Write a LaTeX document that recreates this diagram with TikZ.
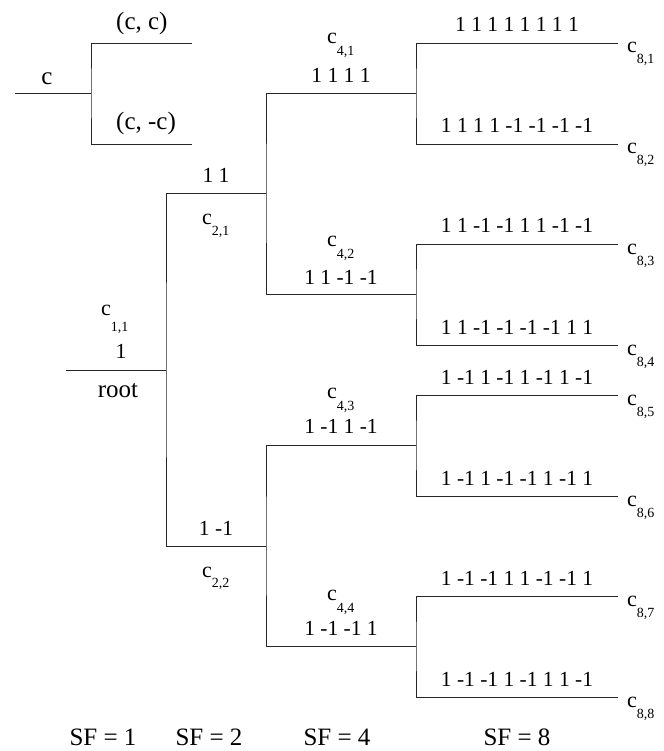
\documentclass[tikz,border=0pt]{standalone}
\usepackage{fontspec}
\setmainfont{Liberation Serif}
\newcommand{\csub}[2][11]{c\raisebox{-#1pt}{\fontsize{14}{14}\selectfont #2}}
\tikzset{
  wire/.style={line width=0.8pt, draw=black!85},
  code/.style={font=\fontsize{21.5}{24}\selectfont, anchor=base, inner sep=0pt},
  big/.style={font=\fontsize{25}{28}\selectfont, anchor=base, inner sep=0pt},
  bigw/.style={font=\fontsize{25}{28}\selectfont, anchor=base west, inner sep=0pt},
  clab/.style={font=\fontsize{22}{24}\selectfont, anchor=base west, inner sep=0pt},
}
\begin{document}
\begin{tikzpicture}[x=1pt,y=-1pt]
\useasboundingbox (0,0) rectangle (663,751);
% ---- small tree top left
\coordinate (t0) at (15,93);
\coordinate (t1) at (91,93);
\coordinate (t2) at (192,43);
\coordinate (t3) at (192,144);
\draw[wire] (t0) -- (t1);
\draw[wire] (t2) -| (t1) |- (t3);
\node[big] (tc) at (47,85) {c};
\node[bigw] (tcc) at (116,30) {(c, c)};
\node[bigw] (tcm) at (116,130) {(c, -c)};
% ---- main tree
\coordinate (r0) at (66,370);
\coordinate (r1) at (166,370);
\coordinate (a1) at (266,193);
\coordinate (a2) at (266,546);
\coordinate (b1) at (416,93);
\coordinate (b2) at (416,294);
\coordinate (b3) at (416,445);
\coordinate (b4) at (416,646);
\coordinate (l1) at (618,43);
\coordinate (l2) at (618,144);
\coordinate (l3) at (618,244);
\coordinate (l4) at (618,345);
\coordinate (l5) at (618,395);
\coordinate (l6) at (618,496);
\coordinate (l7) at (618,596);
\coordinate (l8) at (618,697);
\draw[wire] (r0) -- (r1);
\draw[wire] (a1) -| (r1) |- (a2);
\draw[wire] (b1) -| (a1) |- (b2);
\draw[wire] (b3) -| (a2) |- (b4);
\draw[wire] (l1) -| (b1) |- (l2);
\draw[wire] (l3) -| (b2) |- (l4);
\draw[wire] (l5) -| (b3) |- (l6);
\draw[wire] (l7) -| (b4) |- (l8);
% level 1
\node[clab] (c11) at (101,315) {\csub[16]{1,1}};
\node[code] (s11) at (121,358) {1};
\node[big] (root) at (118,397) {root};
% level 2
\node[code] (s21) at (216,183) {1 1};
\node[clab] (c21) at (202,225) {\csub[10]{2,1}};
\node[code] (s22) at (216,535) {1 -1};
\node[clab] (c22) at (202,577) {\csub[10]{2,2}};
% level 4
\node[clab] (c41) at (327,44) {\csub[12]{4,1}};
\node[code] (s41) at (341,83) {1 1 1 1};
\node[clab] (c42) at (327,246) {\csub[12]{4,2}};
\node[code] (s42) at (341,284) {1 1 -1 -1};
\node[clab] (c43) at (327,398) {\csub[12]{4,3}};
\node[code] (s43) at (341,433) {1 -1 1 -1};
\node[clab] (c44) at (327,600) {\csub[12]{4,4}};
\node[code] (s44) at (341,635) {1 -1 -1 1};
% level 8 codes
\node[code] (s81) at (517,32) {1 1 1 1 1 1 1 1};
\node[code] (s82) at (517,133) {1 1 1 1 -1 -1 -1 -1};
\node[code] (s83) at (517,233) {1 1 -1 -1 1 1 -1 -1};
\node[code] (s84) at (517,334) {1 1 -1 -1 -1 -1 1 1};
\node[code] (s85) at (517,384) {1 -1 1 -1 1 -1 1 -1};
\node[code] (s86) at (517,485) {1 -1 1 -1 -1 1 -1 1};
\node[code] (s87) at (517,585) {1 -1 -1 1 1 -1 -1 1};
\node[code] (s88) at (517,686) {1 -1 -1 1 -1 1 1 -1};
% level 8 names
\node[clab] (c81) at (627,53) {\csub{8,1}};
\node[clab] (c82) at (627,154) {\csub{8,2}};
\node[clab] (c83) at (627,254) {\csub{8,3}};
\node[clab] (c84) at (627,355) {\csub{8,4}};
\node[clab] (c85) at (627,405) {\csub{8,5}};
\node[clab] (c86) at (627,506) {\csub{8,6}};
\node[clab] (c87) at (627,606) {\csub{8,7}};
\node[clab] (c88) at (627,707) {\csub{8,8}};
% spreading factors
\node[big] (sf1) at (103,745) {SF = 1};
\node[big] (sf2) at (209,745) {SF = 2};
\node[big] (sf4) at (337,745) {SF = 4};
\node[big] (sf8) at (517,745) {SF = 8};
\end{tikzpicture}
\end{document}
